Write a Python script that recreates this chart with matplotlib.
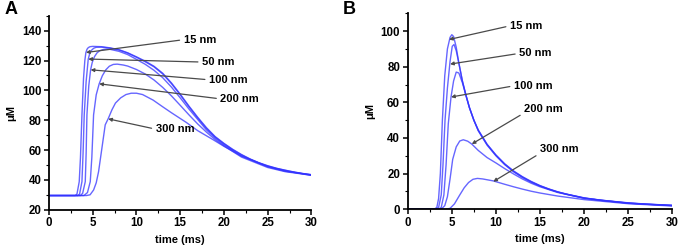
import matplotlib.pyplot as plt

plt.rcParams['font.family'] = ['Liberation Sans', 'DejaVu Sans']
plt.rcParams['font.weight'] = 'bold'

sizes = ["15 nm", "50 nm", "100 nm", "200 nm", "300 nm"]

# panel A: (time ms, uM)
a_t = {
    "15 nm": [0, 3.0, 3.2, 3.46, 3.6, 3.77, 3.95, 4.1, 4.22, 4.35, 4.5, 4.7, 5, 6, 7, 8, 9, 10, 11, 12, 13, 14, 15, 16, 17, 18, 19, 20, 21, 22, 23, 24, 25, 26, 27, 28, 29, 30],
    "50 nm": [0, 3.3, 3.5, 3.77, 3.9, 4.03, 4.25, 4.49, 4.65, 4.85, 5.1, 5.4, 6, 7, 8, 9, 10, 11, 12, 13, 14, 15, 16, 17, 18, 19, 20, 21, 22, 23, 24, 25, 26, 27, 28, 29, 30],
    "100 nm": [0, 3.6, 3.85, 4.15, 4.25, 4.34, 4.55, 4.76, 4.95, 5.2, 5.5, 5.8, 6.2, 6.6, 7, 8, 9, 10, 11, 12, 13, 14, 15, 16, 17, 18, 19, 20, 22, 25, 27, 30],
    "200 nm": [0, 4.0, 4.4, 4.72, 4.9, 5.1, 5.4, 5.74, 6.1, 6.5, 6.9, 7.35, 7.8, 8.5, 9, 10, 11, 12, 13, 14, 15, 16, 17, 18, 19, 20, 22, 25, 27, 30],
    "300 nm": [0, 4.3, 4.7, 5.1, 5.4, 5.67, 6.05, 6.43, 6.77, 7.2, 7.6, 8.2, 8.8, 9.4, 10, 10.7, 11.9, 13, 14, 15.7, 17, 18.8, 20, 22, 25, 27, 30],
}
a_v = {
    "15 nm": [29.5, 29.5, 30.5, 38.8, 55, 83.6, 108, 120, 125.4, 127.6, 128.7, 129.3, 129.5, 129.3, 128.5, 127.3, 125.2, 122.5, 119.6, 116.2, 111.5, 105, 97.5, 89.5, 82, 75, 69, 64.5, 60.5, 57, 54, 51.5, 49.5, 47.8, 46.5, 45.3, 44.3, 43.5],
    "50 nm": [29.5, 29.5, 30.5, 38.8, 58, 83.6, 106, 121, 124.5, 126.8, 128.2, 128.9, 129, 128.3, 127.1, 125, 122.2, 119.2, 115.8, 111, 104.5, 97, 89, 81.5, 74.5, 68.7, 64.2, 60.2, 56.8, 53.8, 51.3, 49.3, 47.7, 46.4, 45.2, 44.2, 43.4],
    "100 nm": [29.5, 29.5, 31, 38.8, 58, 83.6, 103, 113.8, 118.8, 122.6, 125.2, 126.6, 127.4, 127.7, 127.5, 126.2, 124, 120.8, 117.5, 113.5, 108.5, 102.2, 95, 87.5, 80.5, 73.5, 68, 63.5, 56, 48.8, 45.8, 43.3],
    "200 nm": [29.5, 29.5, 31.5, 38.8, 55, 83.6, 97, 104.4, 109.8, 113.8, 116.2, 117.4, 117.6, 117.0, 116.3, 114, 111, 107, 102, 96.3, 90, 83.6, 77.5, 72, 67, 62.8, 55.3, 48.3, 45.5, 43.1],
    "300 nm": [29.5, 29.5, 30, 33.2, 38, 45.5, 61.2, 76.9, 81, 87, 91.5, 95, 97.2, 98.1, 98.1, 97.2, 93.5, 89, 85, 78.5, 73, 66.8, 62.5, 56, 49, 46, 43],
}

# panel B
b_t = {
    "15 nm": [0, 3.0, 3.3, 3.5, 3.7, 3.93, 4.2, 4.5, 4.8, 5.0, 5.2, 5.5, 5.8, 6.2, 6.6, 7, 7.5, 8, 9, 10, 11, 12, 13, 14, 15, 16, 17, 18, 20, 22, 25, 27, 30],
    "50 nm": [0, 3.2, 3.5, 3.8, 4.0, 4.23, 4.5, 4.8, 5.05, 5.25, 5.5, 5.8, 6.2, 6.6, 7, 7.5, 8, 9, 10, 11, 12, 13, 14, 15, 16, 17, 18, 20, 22, 25, 27, 30],
    "100 nm": [0, 3.5, 3.8, 4.1, 4.35, 4.6, 4.91, 5.2, 5.5, 5.8, 6.2, 6.6, 7, 7.5, 8, 9, 10, 11, 12, 13, 14, 15, 17, 20, 25, 30],
    "200 nm": [0, 3.8, 4.2, 4.5, 4.8, 5.1, 5.5, 5.9, 6.3, 6.8, 7.26, 8, 9, 10, 11, 12, 13, 14, 15, 17, 20, 25, 30],
    "300 nm": [0, 4.3, 4.8, 5.3, 5.9, 6.4, 6.9, 7.4, 7.9, 8.5, 9.7, 11, 12, 13, 14, 15, 17, 20, 25, 30],
}
b_v = {
    "15 nm": [0, 0, 1, 6, 20, 50, 75, 90, 96.5, 98, 97, 91, 82, 72, 64, 57, 50, 44.5, 36.5, 30.5, 25.5, 21.5, 18.3, 15.6, 13.3, 11.4, 9.8, 8.5, 6.4, 5, 3.6, 2.9, 2.2],
    "50 nm": [0, 0, 1, 8, 25, 50, 68, 83, 91.5, 92.5, 89, 82, 72, 64, 57, 50, 44.3, 36.3, 30.3, 25.3, 21.3, 18.1, 15.4, 13.1, 11.2, 9.7, 8.4, 6.3, 4.9, 3.5, 2.8, 2.1],
    "100 nm": [0, 0, 1, 8, 25, 48, 63, 72, 77, 76.5, 71, 64, 57, 50, 44, 36, 30, 25, 21, 17.8, 15.2, 13, 9.6, 6.2, 3.4, 2.1],
    "200 nm": [0, 0, 2, 7, 17, 28, 35, 38.3, 39, 38.2, 36.6, 33, 29, 26, 22.8, 19.8, 17, 14.6, 12.6, 9.4, 6.1, 3.3, 2],
    "300 nm": [0, 0, 0.5, 3, 8, 12, 15, 16.8, 17.3, 17, 15.9, 14, 12.6, 11.3, 10.1, 9.1, 7.4, 5.4, 3.1, 1.8],
}

# label text position and arrow tip (data coords)
a_lab = {"15 nm": (15.4, 134.0), "50 nm": (17.5, 119.0), "100 nm": (18.3, 107.1),
         "200 nm": (19.6, 94.3), "300 nm": (12.2, 74.0)}
a_tip = {"15 nm": (4.23, 125.4), "50 nm": (4.49, 121.0), "100 nm": (4.76, 113.8),
         "200 nm": (5.74, 104.4), "300 nm": (6.77, 80.9)}
b_lab = {"15 nm": (11.6, 103.0), "50 nm": (12.65, 87.5), "100 nm": (12.05, 69.3),
         "200 nm": (13.2, 56.3), "300 nm": (15.0, 33.6)}
b_tip = {"15 nm": (4.68, 95.3), "50 nm": (4.8, 81.5), "100 nm": (4.91, 63.0),
         "200 nm": (7.26, 36.6), "300 nm": (9.7, 15.5)}


def draw(ax, ts, vs, labs, tips, ylim, ymaj, relpos):
    for s in sizes:
        ax.plot(ts[s], vs[s], color='#3333ff', lw=1.0, alpha=0.75)
    for s in sizes:
        ax.annotate(s, xy=tips[s], xytext=labs[s], fontsize=8, fontweight='bold',
                    ha='left', va='center',
                    arrowprops=dict(arrowstyle='-|>', color='#4a4a4a', lw=0.9,
                                    mutation_scale=5, shrinkA=1, shrinkB=0,
                                    relpos=relpos[s]))
    ax.set_xlim(0, 30)
    ax.set_xticks(range(0, 31, 5))
    ax.set_xticks([x + 2.5 for x in range(0, 30, 5)], minor=True)
    ax.set_yticks(ymaj)
    ax.set_yticks([y + (ymaj[1] - ymaj[0]) / 2 for y in ymaj], minor=True)
    ax.set_ylim(*ylim)
    ax.spines['top'].set_visible(False)
    ax.spines['right'].set_visible(False)
    ax.spines['left'].set_linewidth(1.3)
    ax.spines['bottom'].set_linewidth(1.3)
    ax.tick_params(which='major', length=3.5, width=1.1, labelsize=8.3, pad=2)
    ax.tick_params(which='minor', length=2, width=0.8)
    for t in ax.get_xticklabels() + ax.get_yticklabels():
        t.set_fontweight('bold')
    ax.set_xlabel("time (ms)", fontsize=8, fontweight='bold', labelpad=4)
    ax.set_ylabel("\u03bcM", fontsize=8, fontweight='bold', labelpad=4)


fig = plt.figure(figsize=(6.8, 2.47), dpi=100)
axA = fig.add_axes([0.072, 0.151, 0.386, 0.785])
axB = fig.add_axes([0.5996, 0.153, 0.389, 0.793])

left = (0, 0.5)
draw(axA, a_t, a_v, a_lab, a_tip, (20, 150), list(range(20, 141, 20)),
     {s: left for s in sizes})
draw(axB, b_t, b_v, b_lab, b_tip, (0, 110), list(range(0, 101, 20)),
     {"15 nm": left, "50 nm": left, "100 nm": left, "200 nm": (0, 0.1), "300 nm": (0, 0.1)})

fig.text(0.006, 0.995, "A", fontsize=13, fontweight='bold', va='top')
fig.text(0.504, 0.995, "B", fontsize=13, fontweight='bold', va='top')

fig.savefig("out.png", dpi=100)
